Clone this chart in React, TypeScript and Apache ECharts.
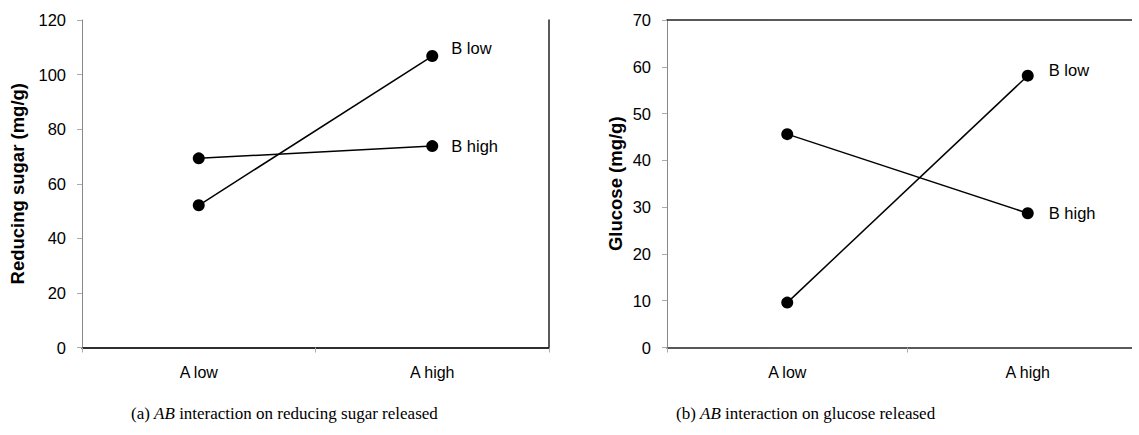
import React, { useEffect, useRef } from "react";
import * as echarts from "echarts";

const categories = ["A low", "A high"];
const sugarBLow = [52.1, 106.8];
const sugarBHigh = [69.3, 73.8];
const glucoseBLow = [9.6, 58.1];
const glucoseBHigh = [45.6, 28.7];
const seriesNames = ["B low", "B high"];
const captionA = ["(a) ", "AB", " interaction on reducing sugar released"];
const captionB = ["(b) ", "AB", " interaction on glucose released"];

const SANS = "Liberation Sans, Arial, sans-serif";
const SERIF = "Liberation Serif, Times New Roman, serif";

function lineSeries(name: string, values: number[], axisIdx: number, dist: number, dy: number) {
  const last = values.length - 1;
  return {
    type: "line",
    name,
    xAxisIndex: axisIdx,
    yAxisIndex: axisIdx,
    symbol: "circle",
    symbolSize: 12,
    itemStyle: { color: "#000" },
    lineStyle: { color: "#000", width: 1.5 },
    data: values.map((v, i) =>
      i === last
        ? {
            value: v,
            label: {
              show: true,
              position: "right",
              distance: dist,
              offset: [0, dy],
              formatter: name,
              fontFamily: SANS,
              fontSize: 16.5,
              color: "#000",
            },
          }
        : v
    ),
  };
}

export default function App() {
  const ref = useRef<HTMLDivElement>(null);
  useEffect(() => {
    if (!ref.current) return;
    const chart = echarts.init(ref.current, undefined, { renderer: "svg" });
    const tickStyle = { show: true, length: 5, lineStyle: { color: "#aaa", width: 1 } };
    const mainX = (gridIndex: number) => ({
      type: "category",
      gridIndex,
      data: categories,
      boundaryGap: true,
      axisLine: { show: true, lineStyle: { color: "#222", width: 1.5 } },
      axisTick: { ...tickStyle, alignWithLabel: false },
      axisLabel: { fontFamily: SANS, fontSize: 16, color: "#000", margin: 17 },
      splitLine: { show: false },
    });
    const topX = (gridIndex: number) => ({
      type: "category",
      gridIndex,
      position: "top",
      data: categories,
      axisLine: { show: true, lineStyle: { color: "#222", width: 1.5 } },
      axisTick: { show: false },
      axisLabel: { show: false },
      splitLine: { show: false },
    });
    const mainY = (gridIndex: number, max: number, interval: number, name: string, nameGap: number) => ({
      type: "value",
      gridIndex,
      min: 0,
      max,
      interval,
      name,
      nameLocation: "middle",
      nameGap,
      nameTextStyle: { fontFamily: SANS, fontSize: 18.5, fontWeight: "bold", color: "#000" },
      axisLine: { show: true, lineStyle: { color: "#888", width: 1 } },
      axisTick: { ...tickStyle, inside: false },
      axisLabel: { fontFamily: SANS, fontSize: 16.5, color: "#000", margin: 16 },
      splitLine: { show: false },
    });
    const rightY = (gridIndex: number, max: number) => ({
      type: "value",
      gridIndex,
      position: "right",
      min: 0,
      max,
      axisLine: { show: true, lineStyle: { color: "#222", width: 1.5 } },
      axisTick: { show: false },
      axisLabel: { show: false },
      splitLine: { show: false },
    });
    const richStyles = {
      n: { fontFamily: SERIF, fontSize: 17, fill: "#000", color: "#000" },
      i: { fontFamily: SERIF, fontSize: 17, fontStyle: "italic", fill: "#000", color: "#000" },
    };
    const cap = (parts: string[]) => `{n|${parts[0]}}{i|${parts[1]}}{n|${parts[2]}}`;
    chart.setOption({
      animation: false,
      backgroundColor: "#fff",
      grid: [
        { left: 82, top: 20, width: 467, height: 327.5, containLabel: false, outerBoundsMode: "none" },
        { left: 667, top: 20, width: 481, height: 327.5, containLabel: false, outerBoundsMode: "none" },
      ],
      xAxis: [mainX(0), mainX(1), topX(0), topX(1)],
      yAxis: [
        mainY(0, 120, 20, "Reducing sugar (mg/g)", 55),
        mainY(1, 70, 10, "Glucose (mg/g)", 42),
        rightY(0, 120),
      ],
      series: [
        lineSeries(seriesNames[0], sugarBLow, 0, 13, -8),
        lineSeries(seriesNames[1], sugarBHigh, 0, 13, 0),
        lineSeries(seriesNames[0], glucoseBLow, 1, 15, -6),
        lineSeries(seriesNames[1], glucoseBHigh, 1, 15, 0),
      ],
      graphic: [
        {
          type: "text",
          left: 131,
          top: 405,
          style: { text: cap(captionA), rich: richStyles, fill: "#000" },
        },
        {
          type: "text",
          left: 676,
          top: 405,
          style: { text: cap(captionB), rich: richStyles, fill: "#000" },
        },
      ],
    });
    return () => chart.dispose();
  }, []);
  return (
    <div
      ref={ref}
      style={{ position: "fixed", left: 0, top: 0, width: 1132, height: 435, background: "#fff" }}
    />
  );
}
